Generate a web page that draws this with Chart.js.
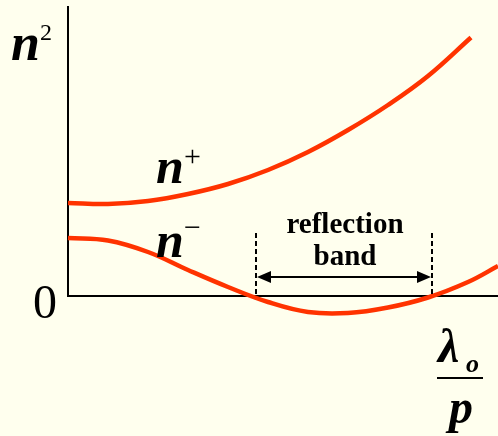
<!DOCTYPE html>
<html>
<head>
<meta charset="utf-8">
<script src="https://cdn.jsdelivr.net/npm/chart.js@4/dist/chart.umd.min.js"></script>
<style>
  html, body { margin: 0; padding: 0; background: #FFFFEE; }
  #wrap { width: 498px; height: 436px; position: relative; }
  canvas { display: block; }
</style>
</head>
<body>
<div id="wrap"><canvas id="c" width="498" height="436"></canvas></div>
<script>
// Normalised wavelength (λo/p) and squared index n² for the two circular modes
const nPlusX  = [0, 4, 8, 12, 16, 20, 24, 28, 32, 36, 40.3];
const nPlusY  = [9.3, 9.2, 9.5, 10.2, 11.2, 12.6, 14.4, 16.6, 19.1, 22.0, 25.85];
const nMinusX = [0, 4, 8, 12, 16, 20, 24, 28, 32, 36, 40, 43];
const nMinusY = [5.8, 5.55, 4.4, 2.6, 0.9, -0.6, -1.6, -1.7, -1.15, -0.15, 1.4, 3.0];
// Edges of the reflection band: where n² of the minus mode is negative
const bandEdges = [18.8, 36.4];

const curveColor = '#FF3300';
const serif = '"Liberation Serif", "Times New Roman", serif';

function pts(xs, ys) { return xs.map((x, i) => ({ x: x, y: ys[i] })); }

// Axes, band marker and the mathematical labels
const decorations = {
  id: 'decorations',
  beforeDatasetsDraw(chart) {
    const { ctx, chartArea, scales: { x, y } } = chart;
    const x0 = x.getPixelForValue(0), y0 = y.getPixelForValue(0);
    ctx.save();
    ctx.strokeStyle = '#000';
    ctx.lineWidth = 2;
    ctx.beginPath();
    ctx.moveTo(x0, chartArea.top);
    ctx.lineTo(x0, y0);
    ctx.lineTo(chartArea.right, y0);
    ctx.stroke();
    ctx.restore();
  },
  afterDatasetsDraw(chart) {
    const { ctx, scales: { x, y } } = chart;
    const x0 = x.getPixelForValue(0), y0 = y.getPixelForValue(0);
    const xa = x.getPixelForValue(bandEdges[0]);
    const xb = x.getPixelForValue(bandEdges[1]);
    ctx.save();
    ctx.fillStyle = '#000';
    ctx.strokeStyle = '#000';

    // dashed band edges
    ctx.lineWidth = 2;
    ctx.setLineDash([5, 3]);
    [xa, xb].forEach(px => {
      ctx.beginPath();
      ctx.moveTo(px, y0 - 63);
      ctx.lineTo(px, y0);
      ctx.stroke();
    });
    ctx.setLineDash([]);

    // double-headed arrow across the band
    const ay = y0 - 19;
    ctx.beginPath();
    ctx.moveTo(xa + 10, ay);
    ctx.lineTo(xb - 10, ay);
    ctx.stroke();
    ctx.beginPath();
    ctx.moveTo(xa + 1, ay); ctx.lineTo(xa + 15, ay - 6); ctx.lineTo(xa + 15, ay + 6); ctx.closePath();
    ctx.moveTo(xb - 1, ay); ctx.lineTo(xb - 15, ay - 6); ctx.lineTo(xb - 15, ay + 6); ctx.closePath();
    ctx.fill();

    // band caption
    const bc = (xa + xb) / 2;
    ctx.textAlign = 'center';
    ctx.textBaseline = 'alphabetic';
    ctx.font = 'bold 29px ' + serif;
    ctx.fillText('reflection', bc + 1, y0 - 63);
    ctx.fillText('band', bc + 1, y0 - 31);

    // zero on the vertical axis
    ctx.font = '48px ' + serif;
    ctx.textAlign = 'center';
    ctx.fillText('0', x0 - 23, y0 + 22);

    // n² axis label
    ctx.textAlign = 'left';
    ctx.font = 'italic bold 52px ' + serif;
    ctx.fillText('n', x0 - 57, 60);
    ctx.font = '24px ' + serif;
    ctx.fillText('2', x0 - 28, 40);

    // mode labels
    ctx.font = 'italic bold 50px ' + serif;
    ctx.fillText('n', 156, 183);
    ctx.fillText('n', 156, 257);
    ctx.font = '30px ' + serif;
    ctx.fillText('+', 184, 166);
    ctx.fillText('\u2212', 184, 237);

    // λo / p under the horizontal axis
    ctx.font = 'italic bold 48px ' + serif;
    ctx.fillText('\u03BB', 438, 362);
    ctx.font = 'italic bold 26px ' + serif;
    ctx.fillText('o', 466, 372);
    ctx.fillRect(437, 377, 46, 2);
    ctx.font = 'italic bold 48px ' + serif;
    ctx.fillText('p', 449, 423);
    ctx.restore();
  }
};

new Chart(document.getElementById('c'), {
  type: 'line',
  data: {
    datasets: [
      { label: 'n+', data: pts(nPlusX, nPlusY) },
      { label: 'n-', data: pts(nMinusX, nMinusY) }
    ]
  },
  options: {
    responsive: false,
    animation: false,
    events: [],
    layout: { padding: { left: 68, top: 6, right: 0, bottom: 100 } },
    elements: {
      line: { borderColor: curveColor, borderWidth: 4.5, tension: 0.4, fill: false, borderCapStyle: 'butt' },
      point: { radius: 0 }
    },
    datasets: { line: { clip: false } },
    scales: {
      x: { type: 'linear', min: 0, max: 43, display: false },
      y: { type: 'linear', min: -4, max: 29, display: false }
    },
    plugins: { legend: { display: false }, tooltip: { enabled: false } }
  },
  plugins: [decorations]
});
</script>
</body>
</html>
